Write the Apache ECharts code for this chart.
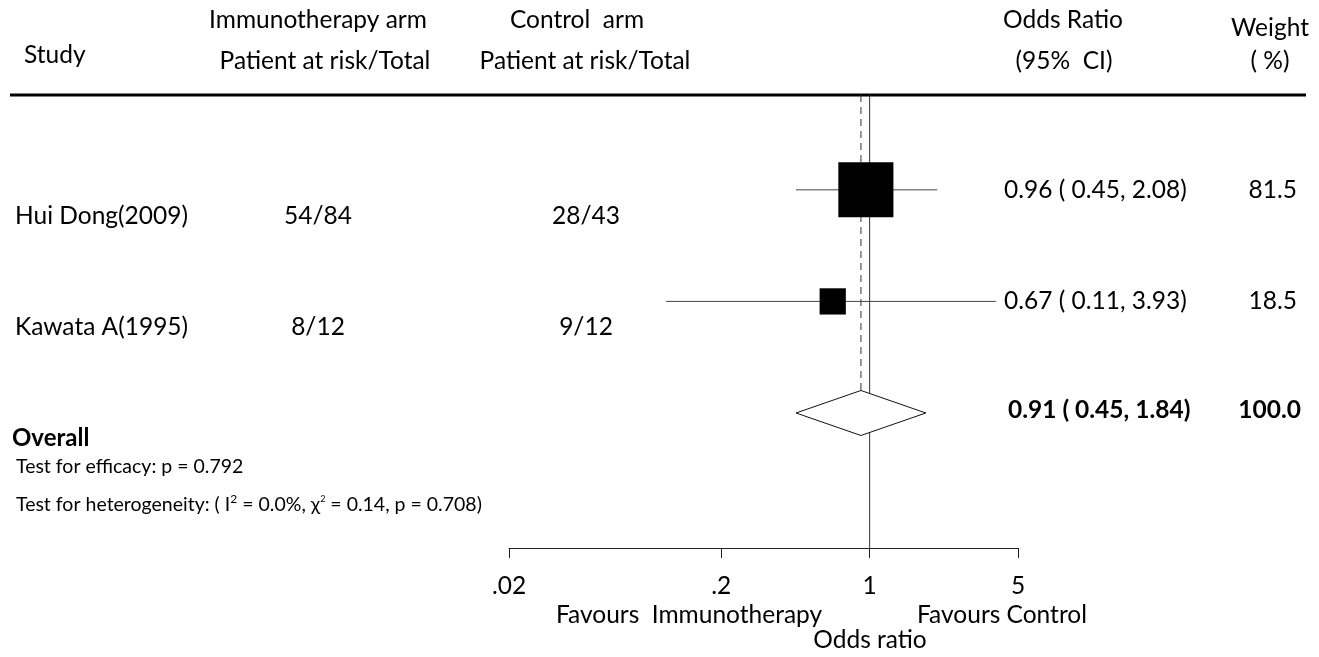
<!DOCTYPE html>
<html>
<head>
<meta charset="utf-8">
<script src="https://cdn.jsdelivr.net/npm/echarts@6/dist/echarts.min.js"></script>
<style>
html,body{margin:0;padding:0;background:#fff;}
#main{width:1319px;height:657px;}
</style>
</head>
<body>
<div id="main"></div>
<script>
// ---- data ----
const studies = ['Hui Dong(2009)', 'Kawata A(1995)'];
const immunoArm = ['54/84', '8/12'];
const controlArm = ['28/43', '9/12'];
const oddsRatio = [0.96, 0.67];
const ciLow = [0.45, 0.11];
const ciHigh = [2.08, 3.93];
const weights = [81.5, 18.5];
const orText = ['0.96 ( 0.45, 2.08)', '0.67 ( 0.11, 3.93)'];
const weightText = ['81.5', '18.5'];
const overallOR = 0.91;
const overallLow = 0.45;
const overallHigh = 1.84;
const overallOrText = '0.91 ( 0.45, 1.84)';
const overallWeightText = '100.0';
const tickValues = [0.02, 0.2, 1, 5];
const tickLabels = ['.02', '.2', '1', '5'];

const FONT = 'Lato';
const FS = 24.5;
const SMALL = 19.5;
const lg = Math.log10;

const chart = echarts.init(document.getElementById('main'));

const studyData = studies.map((s, i) => [lg(oddsRatio[i]), i + 1, lg(ciLow[i]), lg(ciHigh[i]), weights[i], i]);

function txt(x, y, text, align, opts) {
  opts = opts || {};
  return {
    type: 'text', x: x, y: y,
    style: Object.assign({ text: text, fontFamily: FONT, fontSize: FS, fill: '#000', align: align, verticalAlign: 'middle' }, opts)
  };
}

const option = {
  animation: false,
  backgroundColor: '#fff',
  grid: { left: 509, right: 301, top: 95, bottom: 109 },
  xAxis: {
    type: 'value',
    min: lg(0.02),
    max: lg(5),
    axisLine: { show: true, lineStyle: { color: '#222', width: 1 } },
    axisTick: { show: true, inside: false, length: 10, customValues: tickValues.map(lg), lineStyle: { color: '#222' } },
    axisLabel: {
      customValues: tickValues.map(lg),
      margin: 26,
      fontSize: FS, fontFamily: FONT, color: '#000',
      formatter: function (v) {
        for (let i = 0; i < tickValues.length; i++) {
          if (Math.abs(lg(tickValues[i]) - v) < 1e-6) return tickLabels[i];
        }
        return '';
      }
    },
    splitLine: { show: false }
  },
  yAxis: { type: 'value', min: 0.15, max: 4.21, inverse: true, show: false },
  series: [
    {
      type: 'custom',
      name: 'refLines',
      clip: false,
      data: [[0, 0.15, 4.21, 0], [lg(overallOR), 0.15, 2.8, 1]],
      renderItem: function (params, api) {
        const a = api.coord([api.value(0), api.value(1)]);
        const b = api.coord([api.value(0), api.value(2)]);
        const dashed = api.value(3) === 1;
        return {
          type: 'line',
          shape: { x1: a[0], y1: a[1], x2: b[0], y2: b[1] },
          style: { stroke: dashed ? '#333' : '#333', lineWidth: 1, lineDash: dashed ? [7, 5] : null }
        };
      }
    },
    {
      type: 'custom',
      name: 'studies',
      clip: false,
      data: studyData,
      renderItem: function (params, api) {
        const c = api.coord([api.value(0), api.value(1)]);
        const l = api.coord([api.value(2), api.value(1)]);
        const h = api.coord([api.value(3), api.value(1)]);
        const size = Math.sqrt(api.value(4)) * 6.1;
        return {
          type: 'group',
          children: [
            { type: 'line', shape: { x1: l[0], y1: l[1], x2: h[0], y2: h[1] }, style: { stroke: '#444', lineWidth: 1 } },
            { type: 'rect', shape: { x: c[0] - size / 2, y: c[1] - size / 2, width: size, height: size }, style: { fill: '#000' } }
          ]
        };
      }
    },
    {
      type: 'custom',
      name: 'overall',
      clip: false,
      data: [[lg(overallOR), 3, lg(overallLow), lg(overallHigh)]],
      renderItem: function (params, api) {
        const c = api.coord([api.value(0), api.value(1)]);
        const l = api.coord([api.value(2), api.value(1)]);
        const h = api.coord([api.value(3), api.value(1)]);
        const hh = 22.5;
        return {
          type: 'polygon',
          shape: { points: [[l[0], c[1]], [c[0], c[1] - hh], [h[0], c[1]], [c[0], c[1] + hh]] },
          style: { fill: '#fff', stroke: '#111', lineWidth: 1 }
        };
      }
    },
    {
      type: 'custom',
      name: 'rowText',
      clip: false,
      data: studies.map((s, i) => [0, i + 1, i]),
      renderItem: function (params, api) {
        const y = api.coord([0, api.value(1)])[1];
        const i = api.value(2);
        return {
          type: 'group',
          children: [
            txt(15, y + 26, studies[i], 'left'),
            txt(318, y + 26, immunoArm[i], 'center'),
            txt(586, y + 26, controlArm[i], 'center'),
            txt(1004, y, orText[i], 'left'),
            txt(1297, y, weightText[i], 'right')
          ]
        };
      }
    },
    {
      type: 'custom',
      name: 'overallText',
      clip: false,
      data: [[0, 3]],
      renderItem: function (params, api) {
        const y = api.coord([0, api.value(1)])[1];
        return {
          type: 'group',
          children: [
            txt(1008, y - 3, overallOrText, 'left', { fontWeight: 'bold' }),
            txt(1301, y - 3, overallWeightText, 'right', { fontWeight: 'bold' })
          ]
        };
      }
    }
  ],
  graphic: [
    { type: 'line', shape: { x1: 10, y1: 95, x2: 1306, y2: 95 }, style: { stroke: '#000', lineWidth: 3 } },
    txt(24, 55, 'Study', 'left'),
    txt(318, 20, 'Immunotherapy arm', 'center'),
    txt(325, 61, 'Patient at risk/Total', 'center'),
    txt(577, 20, 'Control  arm', 'center'),
    txt(585, 61, 'Patient at risk/Total', 'center'),
    txt(1063, 20, 'Odds Ratio', 'center'),
    txt(1064, 61, '(95%  CI)', 'center'),
    txt(1270, 28, 'Weight', 'center'),
    txt(1270, 61, '( %)', 'center'),
    txt(12, 438, 'Overall', 'left', { fontWeight: 'bold', fontSize: 24 }),
    txt(16, 467, 'Test for efficacy: p = 0.792', 'left', { fontSize: SMALL }),
    txt(16, 505, 'Test for heterogeneity: ( I{sup|2} = 0.0%, χ{sup2|2} = 0.14, p = 0.708)', 'left', {
      fontSize: SMALL,
      rich: {
        sup: { fontSize: 12, padding: [0, 0, 12, 0], fontFamily: FONT },
        sup2: { fontSize: 9, padding: [0, 0, 12, 0], fontFamily: FONT }
      }
    }),
    txt(689, 615, 'Favours  Immunotherapy', 'center'),
    txt(1002, 615, 'Favours Control', 'center'),
    txt(870, 640, 'Odds ratio', 'center')
  ]
};
chart.setOption(option);
</script>
</body>
</html>
